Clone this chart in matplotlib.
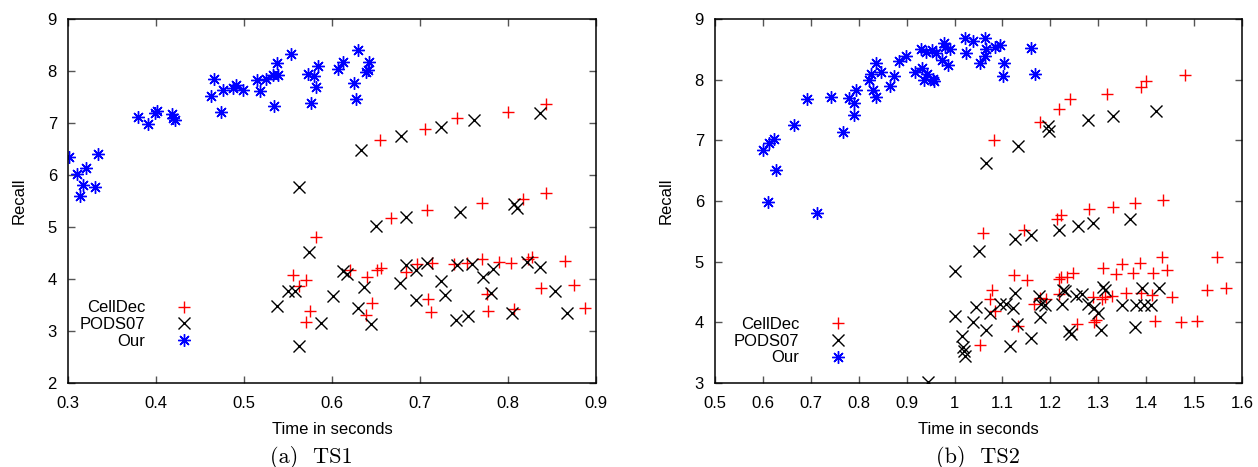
import numpy as np
import matplotlib
matplotlib.use('Agg')
import matplotlib.pyplot as plt

# ---- TS1 ----
ts1_cell_t = [0.655, 0.706, 0.742, 0.800, 0.843, 0.667, 0.708, 0.770, 0.817, 0.843,
              0.582, 0.556, 0.563, 0.571, 0.575, 0.571, 0.620, 0.640, 0.645, 0.639,
              0.651, 0.656, 0.684, 0.697, 0.709, 0.712, 0.714, 0.739, 0.753, 0.770,
              0.776, 0.777, 0.790, 0.803, 0.807, 0.823, 0.827, 0.838, 0.865, 0.875, 0.887]
ts1_cell_r = [6.67, 6.88, 7.10, 7.21, 7.37, 5.17, 5.33, 5.47, 5.53, 5.65,
              4.81, 4.08, 3.87, 3.99, 3.39, 3.17, 4.17, 4.04, 3.53, 3.31,
              4.17, 4.22, 4.14, 4.29, 3.62, 3.37, 4.30, 4.29, 4.30, 4.38,
              3.72, 3.39, 4.33, 4.31, 3.42, 4.38, 4.42, 3.82, 4.35, 3.88, 3.44]

ts1_pods_t = [0.633, 0.678, 0.724, 0.761, 0.836, 0.650, 0.684, 0.745, 0.807, 0.810,
              0.562, 0.574, 0.613, 0.617, 0.550, 0.558, 0.537, 0.601, 0.588, 0.563,
              0.630, 0.636, 0.644, 0.677, 0.684, 0.695, 0.696, 0.708, 0.724, 0.728,
              0.741, 0.742, 0.754, 0.759, 0.772, 0.783, 0.781, 0.804, 0.822, 0.836,
              0.853, 0.867]
ts1_pods_r = [6.48, 6.75, 6.92, 7.06, 7.19, 5.02, 5.19, 5.28, 5.44, 5.36,
              5.76, 4.51, 4.16, 4.10, 3.77, 3.77, 3.49, 3.67, 3.16, 2.71,
              3.44, 3.84, 3.13, 3.93, 4.27, 4.17, 3.60, 4.30, 3.96, 3.69,
              3.21, 4.26, 3.28, 4.28, 4.03, 4.19, 3.74, 3.34, 4.33, 4.24,
              3.76, 3.35]

ts1_our_t = [0.301, 0.310, 0.321, 0.334, 0.317, 0.314, 0.331, 0.379, 0.391, 0.399,
             0.401, 0.418, 0.419, 0.422, 0.463, 0.466, 0.474, 0.476, 0.487, 0.491,
             0.499, 0.515, 0.518, 0.525, 0.533, 0.537, 0.539, 0.534, 0.553, 0.573,
             0.579, 0.582, 0.576, 0.584, 0.607, 0.613, 0.625, 0.627, 0.630, 0.642,
             0.639, 0.641]
ts1_our_r = [6.35, 6.02, 6.13, 6.40, 5.81, 5.60, 5.76, 7.12, 6.99, 7.19,
             7.24, 7.17, 7.09, 7.05, 7.51, 7.85, 7.22, 7.63, 7.67, 7.73,
             7.63, 7.83, 7.62, 7.85, 7.92, 8.16, 7.92, 7.33, 8.32, 7.94,
             7.90, 7.69, 7.39, 8.10, 8.04, 8.18, 7.76, 7.46, 8.40, 8.17,
             7.99, 8.01]

# ---- TS2 ----
ts2_cell_t = [1.082, 1.179, 1.217, 1.240, 1.319, 1.390, 1.399, 1.481,
              1.060, 1.144, 1.213, 1.222, 1.280, 1.330, 1.377, 1.436,
              1.078, 1.073, 1.085, 1.053, 1.125, 1.151, 1.132, 1.165, 1.178,
              1.191, 1.217, 1.219, 1.222, 1.234, 1.248, 1.255, 1.288, 1.292,
              1.296, 1.309, 1.308, 1.315, 1.329, 1.338, 1.350, 1.358, 1.372,
              1.387, 1.389, 1.415, 1.419, 1.413, 1.434, 1.444, 1.453, 1.472,
              1.507, 1.526, 1.547, 1.566]
ts2_cell_r = [7.01, 7.30, 7.51, 7.68, 7.76, 7.88, 7.98, 8.08,
              5.48, 5.53, 5.70, 5.77, 5.86, 5.90, 5.97, 6.01,
              4.54, 4.38, 4.19, 3.63, 4.78, 4.70, 3.94, 4.30, 4.40,
              4.39, 4.47, 4.71, 4.74, 4.74, 4.81, 3.97, 4.41, 4.01,
              4.04, 4.90, 4.39, 4.42, 4.43, 4.79, 4.96, 4.48, 4.82,
              4.98, 4.49, 4.82, 4.03, 4.45, 5.07, 4.86, 4.42, 4.01,
              4.03, 4.54, 5.07, 4.56]

ts2_pods_t = [1.065, 1.133, 1.196, 1.198, 1.278, 1.331, 1.420,
              1.127, 1.160, 1.219, 1.258, 1.290, 1.367,
              1.000, 1.051, 1.001, 1.016, 1.017, 1.020, 1.022, 1.038, 1.045,
              1.065, 1.074, 0.944, 1.095, 1.107, 1.122, 1.127, 1.130, 1.116,
              1.160, 1.176, 1.181, 1.179, 1.188, 1.224, 1.226, 1.231, 1.238,
              1.243, 1.253, 1.267, 1.278, 1.292, 1.299, 1.309, 1.313, 1.306,
              1.349, 1.376, 1.378, 1.392, 1.396, 1.411, 1.427]
ts2_pods_r = [6.62, 6.91, 7.24, 7.15, 7.34, 7.40, 7.49,
              5.38, 5.44, 5.52, 5.59, 5.64, 5.70,
              4.85, 5.18, 4.10, 3.78, 3.60, 3.53, 3.44, 4.00, 4.25,
              3.87, 4.16, 3.02, 4.30, 4.30, 4.23, 4.49, 3.98, 3.61,
              3.74, 4.43, 4.31, 4.08, 4.29, 4.30, 4.54, 4.52, 3.85,
              3.80, 4.43, 4.47, 4.31, 4.23, 4.15, 4.59, 4.53, 3.87,
              4.29, 3.92, 4.29, 4.56, 4.29, 4.29, 4.56]

ts2_our_t = [0.601, 0.612, 0.623, 0.627, 0.611, 0.665, 0.691, 0.743, 0.713, 0.767,
             0.779, 0.790, 0.790, 0.795, 0.821, 0.826, 0.830, 0.837, 0.837, 0.847,
             0.866, 0.874, 0.885, 0.899, 0.917, 0.930, 0.932, 0.937, 0.941, 0.942,
             0.953, 0.955, 0.958, 0.962, 0.974, 0.979, 0.981, 0.986, 0.990, 1.021,
             1.023, 1.038, 1.054, 1.063, 1.066, 1.063, 1.085, 1.094, 1.104, 1.102,
             1.160, 1.167]
ts2_our_r = [6.84, 6.95, 7.02, 6.51, 5.99, 7.26, 7.68, 7.71, 5.80, 7.13,
             7.70, 7.61, 7.42, 7.83, 7.99, 8.10, 7.83, 7.72, 8.28, 8.13,
             7.90, 8.06, 8.30, 8.39, 8.12, 8.50, 8.19, 7.99, 8.46, 8.10,
             8.49, 8.01, 7.97, 8.44, 8.32, 8.61, 8.54, 8.24, 8.50, 8.68,
             8.44, 8.63, 8.27, 8.68, 8.50, 8.39, 8.54, 8.57, 8.27, 8.06,
             8.52, 8.10]

labels = ['CellDec', 'PODS07', 'Our']
sans = 'Liberation Sans'
serif = 'cmr10'

fig = plt.figure(figsize=(12.58, 4.67), dpi=100)
ax1 = fig.add_axes([68 / 1258, 84 / 467, 528 / 1258, 364 / 467])
ax2 = fig.add_axes([715 / 1258, 84 / 467, 527 / 1258, 364 / 467])


def draw(ax, cell, pods, our, xlim, ylim, xticks, yticks, leg_anchor, caption, cap_x):
    ms = 9
    ax.plot(cell[0], cell[1], '+', color='#ff0000', ms=ms, mew=1.0, ls='none', label=labels[0])
    ax.plot(pods[0], pods[1], 'x', color='black', ms=ms * 0.9, mew=1.0, ls='none', label=labels[1])
    ax.plot(our[0], our[1], marker=(8, 2, 0), color='#0000ff', ms=ms, mew=1.0, ls='none', label=labels[2])
    ax.set_xlim(xlim)
    ax.set_ylim(ylim)
    ax.set_xticks(xticks)
    ax.set_yticks(yticks)
    ax.set_xticklabels(['%g' % round(v, 1) for v in xticks], fontfamily=sans, fontsize=12)
    ax.set_yticklabels(['%d' % v for v in yticks], fontfamily=sans, fontsize=12)
    ax.tick_params(axis='x', pad=9)
    ax.tick_params(axis='y', pad=8)
    ax.tick_params(direction='in', top=True, right=True, length=5, width=1,
                   color='#555555')
    for s in ax.spines.values():
        s.set_linewidth(1.1)
    ax.set_xlabel('Time in seconds', fontfamily=sans, fontsize=12, labelpad=8)
    ax.set_ylabel('Recall', fontfamily=sans, fontsize=12, labelpad=15)
    leg = ax.legend(loc='lower left', bbox_to_anchor=leg_anchor, frameon=False,
                    markerfirst=False, handlelength=1.2, handletextpad=1.75,
                    labelspacing=0.1, borderaxespad=0, prop={'family': sans, 'size': 12})
    for t in leg.get_texts():
        t.set_ha('right')
    ax.text(cap_x, -0.205, caption, transform=ax.transAxes, ha='center', va='center',
            fontfamily=serif, fontsize=16)


draw(ax1, (ts1_cell_t, ts1_cell_r), (ts1_pods_t, ts1_pods_r), (ts1_our_t, ts1_our_r),
     (0.3, 0.9), (2, 9), np.arange(0.3, 0.91, 0.1), range(2, 10),
     (0.0095, 0.076), '(a)  TS1', (311 - 68) / 528)
draw(ax2, (ts2_cell_t, ts2_cell_r), (ts2_pods_t, ts2_pods_r), (ts2_our_t, ts2_our_r),
     (0.5, 1.6), (3, 9), np.arange(0.5, 1.61, 0.1), range(3, 10),
     (0.023, 0.03), '(b)  TS2', (978 - 715) / 527)

plt.savefig('out.png', dpi=100)
